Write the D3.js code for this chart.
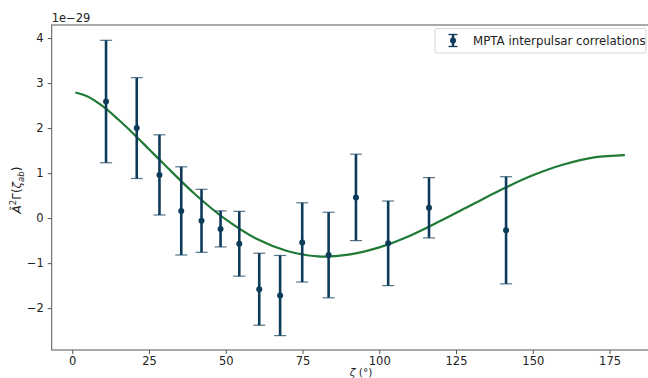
<!DOCTYPE html>
<html><head><meta charset="utf-8">
<script src="https://cdn.jsdelivr.net/npm/d3@7"></script>
<style>body{margin:0;background:#fff}svg{display:block}text{font-family:"DejaVu Sans",sans-serif;fill:#222}</style>
</head><body><svg id="c" width="648" height="378"></svg>
<script>
// Measured correlations (units of 1e-29)
const zeta = [11.0, 21.0, 28.4, 35.5, 42.1, 48.3, 54.4, 60.9, 67.7, 74.9, 83.5, 92.4, 102.9, 116.2, 141.3];
const corr = [2.59, 2.00, 0.96, 0.16, -0.06, -0.24, -0.57, -1.58, -1.72, -0.54, -0.82, 0.46, -0.56, 0.23, -0.27];
const corrErr = [1.36, 1.12, 0.89, 0.98, 0.70, 0.40, 0.72, 0.80, 0.89, 0.88, 0.95, 0.96, 0.94, 0.67, 1.19];
// Model curve
const curveAngle = [1, 5, 10, 15, 20, 25, 30, 40, 50, 60, 70, 80, 90, 100, 110, 120, 130, 140, 150, 160, 170, 180];
const curveValue = [2.79, 2.70, 2.48, 2.19, 1.87, 1.53, 1.19, 0.53, -0.03, -0.46, -0.73, -0.85, -0.81, -0.65, -0.39, -0.06, 0.29, 0.64, 0.95, 1.19, 1.35, 1.40];
const xTicks = [0, 25, 50, 75, 100, 125, 150, 175];
const yTicks = [-2, -1, 0, 1, 2, 3, 4];
const legendLabel = "MPTA interpulsar correlations";

const svg = d3.select("#c");
const L = 51.7, R = 674, T = 25, B = 350;
const x = d3.scaleLinear().domain([-6.7, 196]).range([L, R]);
const y = d3.scaleLinear().domain([-2.93, 4.29]).range([B, T]);
const axisCol = "#555";
const errCol = "#0d3b5a";
const lineCol = "#1f7a35";

// axes
const gx = svg.append("g").attr("transform", `translate(0,${B})`)
  .call(d3.axisBottom(x).tickValues(xTicks).tickSize(4).tickPadding(3).tickFormat(d3.format("d")));
const gy = svg.append("g").attr("transform", `translate(${L},0)`)
  .call(d3.axisLeft(y).tickValues(yTicks).tickSize(4).tickPadding(4).tickFormat(d => d < 0 ? "\u2212" + Math.abs(d) : d));
[gx, gy].forEach(g => {
  g.select(".domain").remove();
  g.selectAll(".tick line").attr("stroke", axisCol);
  g.selectAll(".tick text").attr("font-size", 11.5).attr("fill", "#222").style("font-family", "DejaVu Sans");
});
svg.append("rect").attr("x", L).attr("y", T).attr("width", R - L).attr("height", B - T)
  .attr("fill", "none").attr("stroke", axisCol).attr("stroke-width", 1);

// model curve
const line = d3.line().x((d, i) => x(curveAngle[i])).y(d => y(d)).curve(d3.curveCatmullRom);
svg.append("path").attr("d", line(curveValue)).attr("fill", "none")
  .attr("stroke", lineCol).attr("stroke-width", 2.2);

// error bars
const g = svg.append("g");
zeta.forEach((z, i) => {
  const cx = x(z), y1 = y(corr[i] + corrErr[i]), y0 = y(corr[i] - corrErr[i]);
  g.append("line").attr("x1", cx).attr("x2", cx).attr("y1", y1).attr("y2", y0)
    .attr("stroke", errCol).attr("stroke-width", 2.6);
  [y1, y0].forEach(yy => g.append("line").attr("x1", cx - 6).attr("x2", cx + 6).attr("y1", yy).attr("y2", yy)
    .attr("stroke", errCol).attr("stroke-width", 1.2).attr("opacity", 0.7));
  g.append("circle").attr("cx", cx).attr("cy", y(corr[i])).attr("r", 3).attr("fill", errCol);
});

// labels
svg.append("text").attr("x", L).attr("y", 22).attr("font-size", 11.5).text("1e\u221229");
const yl = svg.append("text").attr("transform", "translate(21,190) rotate(-90)")
  .attr("text-anchor", "middle").attr("font-size", 12);
yl.append("tspan").attr("font-style", "italic").text("\u00C2");
yl.append("tspan").attr("font-size", 8.5).attr("dy", -5).text("2");
yl.append("tspan").attr("dy", 5).text("\u0393(");
yl.append("tspan").attr("font-style", "italic").text("\u03B6");
yl.append("tspan").attr("font-style", "italic").attr("font-size", 8.5).attr("dy", 3).text("ab");
yl.append("tspan").attr("dy", -3).text(")");
const xl = svg.append("text").attr("x", 361).attr("y", 375.5).attr("text-anchor", "middle").attr("font-size", 10.5);
xl.append("tspan").attr("font-style", "italic").text("\u03B6");
xl.append("tspan").text(" (\u00B0)");

// legend
const lg = svg.append("g");
lg.append("rect").attr("x", 435).attr("y", 28.5).attr("width", 211).attr("height", 24.5).attr("rx", 2)
  .attr("fill", "#fff").attr("stroke", "#d6d6d6");
const mx = 453, my = 40.5;
lg.append("line").attr("x1", mx).attr("x2", mx).attr("y1", my - 6).attr("y2", my + 6).attr("stroke", errCol).attr("stroke-width", 2.4);
[my - 6, my + 6].forEach(yy => lg.append("line").attr("x1", mx - 4.5).attr("x2", mx + 4.5).attr("y1", yy).attr("y2", yy).attr("stroke", errCol).attr("stroke-width", 1.3));
lg.append("circle").attr("cx", mx).attr("cy", my).attr("r", 3).attr("fill", errCol);
lg.append("text").attr("x", 473).attr("y", my + 4.2).attr("font-size", 11.8).text(legendLabel);
</script></body></html>
